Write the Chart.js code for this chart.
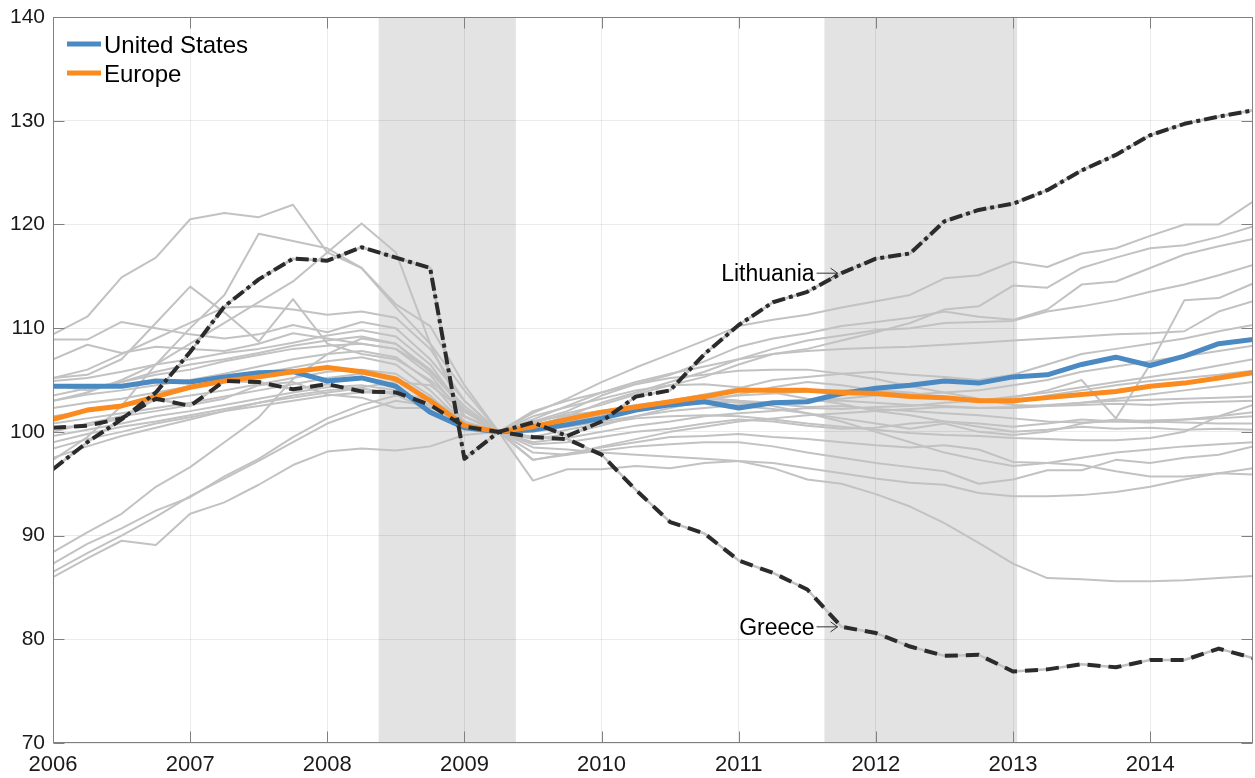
<!DOCTYPE html>
<html><head><meta charset="utf-8">
<script src="https://cdn.jsdelivr.net/npm/chart.js@4.4.1/dist/chart.umd.min.js"></script>
<style>html,body{margin:0;padding:0;background:#fff;}#wrap{width:1255px;height:778px;}</style>
</head><body><div id="wrap"><canvas id="c" width="1255" height="778"></canvas></div>
<script>
const quarters = [2006,2006.25,2006.5,2006.75,2007,2007.25,2007.5,2007.75,2008,2008.25,2008.5,2008.75,2009,2009.25,2009.5,2009.75,2010,2010.25,2010.5,2010.75,2011,2011.25,2011.5,2011.75,2012,2012.25,2012.5,2012.75,2013,2013.25,2013.5,2013.75,2014,2014.25,2014.5,2014.75];
const xTickYears = [2006,2007,2008,2009,2010,2011,2012,2013,2014];
const yTickValues = [70,80,90,100,110,120,130,140];
const recessions = [[2008.375, 2009.375], [2011.625, 2013.03]];

const unitedStates = [104.4,104.4,104.4,104.9,104.8,105.3,105.7,105.8,104.9,105.2,104.4,101.9,100.4,100,100.2,100.7,101.3,102.1,102.6,102.9,102.3,102.8,102.9,103.7,104.2,104.5,104.9,104.7,105.3,105.5,106.5,107.2,106.4,107.3,108.5,108.9];
const europe = [101.2,102.1,102.5,103.4,104.3,104.9,105.3,105.8,106.2,105.8,105.1,103.0,100.6,100,100.5,101.2,101.9,102.4,102.9,103.4,104.0,104.0,104.0,103.8,103.7,103.4,103.3,103.0,103.0,103.3,103.6,103.9,104.4,104.7,105.2,105.7];
const lithuania = [96.4,99.0,101.2,103.8,107.7,112.1,114.7,116.7,116.5,117.8,116.8,115.8,97.4,100,100.9,99.6,101.0,103.4,104.0,107.5,110.3,112.5,113.5,115.3,116.7,117.2,120.3,121.4,122.0,123.3,125.2,126.7,128.6,129.7,130.4,131.0];
const greece = [100.4,100.6,101.3,103.2,102.5,104.9,104.8,104.1,104.6,103.9,103.8,102.6,100.5,100,99.5,99.3,97.8,94.4,91.3,90.2,87.6,86.4,84.8,81.2,80.6,79.3,78.4,78.5,76.9,77.1,77.6,77.3,78.0,78.0,79.1,78.2];

const g1 = [109.4,111.1,114.9,116.8,120.5,121.1,120.7,121.9,117.3,115.8,112.3,110.2,104.5,100,95.3,96.4,96.4,96.7,96.5,97.0,97.2,97.0,96.5,96.0,95.5,95.1,94.9,94.1,93.8,93.8,93.9,94.2,94.7,95.4,96.0,96.5];
const g2 = [97.3,99.5,102.5,106.5,110.0,113.2,119.1,118.4,117.7,115.8,112.0,108.5,104.0,100,98.5,98.3,98.0,97.8,97.6,97.4,97.2,96.5,95.4,95.0,94.0,92.8,91.2,89.3,87.3,85.9,85.8,85.6,85.6,85.7,85.9,86.1];
const g3 = [103.0,103.8,105.0,106.5,108.5,110.5,112.5,114.5,117.3,120.1,117.3,108.5,101.5,100,98.0,97.8,98.2,98.6,98.8,99.0,99.0,98.6,98.0,97.5,97.0,96.6,96.2,95.0,95.4,96.3,96.3,97.3,97.0,97.5,97.8,98.6];
const g4 = [88.4,90.3,92.1,94.7,96.6,99.0,101.4,105.1,107.5,109.0,108.5,106.0,102.0,100,101.8,103.2,104.8,106.2,107.5,108.8,110.2,110.8,111.3,112.0,112.6,113.2,114.8,115.1,116.4,115.9,117.2,117.7,118.9,120.0,120.0,122.2];
const g5 = [105.2,105.5,107.0,110.5,114.0,111.5,108.7,112.8,108.5,107.5,107.0,105.0,102.0,100,97.3,97.9,98.5,99.0,99.5,99.6,99.8,99.5,99.3,99.0,98.7,98.5,98.7,98.3,97.1,97.0,96.8,96.2,95.7,95.7,96.0,95.9];
const g6 = [108.9,108.9,110.6,110.0,109.4,109.0,109.4,110.3,109.6,110.6,110.0,107.0,103.0,100,100.8,101.8,102.6,103.6,104.5,105.3,106.5,107.5,108.0,108.8,109.6,110.5,111.8,112.1,114.1,113.9,115.8,116.8,117.7,118.0,118.8,119.8];
const g7 = [107.0,108.4,107.6,108.2,108.0,107.8,108.5,109.5,109.0,108.5,108.0,106.0,102.5,100,101.0,102.0,103.5,104.6,105.5,106.8,108.2,109.0,109.5,110.2,110.6,111.0,111.6,111.1,110.8,111.8,114.2,114.5,115.8,117.1,117.9,118.6];
const g8 = [105.2,106.0,107.5,109.0,110.5,112.0,112.1,111.8,111.3,111.6,111.0,108.0,103.0,100,97.3,97.8,98.6,99.3,100.0,100.5,101.0,101.3,101.6,101.8,102.0,102.2,102.4,102.3,102.4,102.6,102.8,103.0,103.1,103.2,103.3,103.4];
const g9 = [104.9,105.2,105.8,106.5,107.0,107.6,108.0,108.6,109.3,109.8,109.2,106.5,102.0,100,100.5,101.5,102.8,103.8,104.8,105.8,107.0,108.0,108.8,109.3,109.8,110.0,110.5,110.6,110.7,111.6,112.1,112.7,113.5,114.2,115.1,116.1];
const g10 = [103.5,104.2,104.8,105.5,106.0,106.8,107.4,108.0,108.3,108.5,108.0,105.5,101.5,100,101.2,102.5,103.8,104.8,105.6,106.3,107.0,107.5,107.8,108.0,108.1,108.2,108.4,108.6,108.8,109.0,109.2,109.4,109.5,109.7,111.6,112.6];
const g11 = [103.0,103.6,104.0,104.5,105.0,105.6,106.3,107.0,107.5,107.8,107.2,104.8,101.0,100,100.2,100.8,101.5,102.3,103.0,103.6,104.2,105.0,105.3,105.6,105.8,105.5,105.3,105.0,105.5,106.5,107.5,108.0,108.5,109.0,109.7,110.3];
const g12 = [102.3,102.8,103.2,103.8,104.4,105.0,105.6,106.2,106.8,107.2,106.5,104.0,100.8,100,100.5,101.2,102.0,102.6,103.0,103.3,103.0,102.8,103.0,103.2,103.5,103.6,103.8,104.0,104.5,105.0,105.8,106.3,106.8,107.3,107.8,108.3];
const g13 = [101.5,102.0,102.5,103.0,103.5,104.0,104.6,105.2,105.8,106.0,105.6,103.5,100.5,100,100.3,100.9,101.6,102.3,102.8,103.2,103.5,103.7,103.9,104.0,104.0,103.6,103.3,103.0,102.8,103.5,104.0,104.5,104.9,105.2,105.5,105.9];
const g14 = [100.8,101.3,101.8,102.3,102.8,103.4,104.0,104.6,105.2,105.6,105.2,103.2,100.6,100,100.0,100.5,101.0,101.5,102.0,102.3,102.6,102.8,103.0,103.0,102.8,102.6,102.5,102.3,102.3,102.5,102.8,103.2,103.6,104.0,104.4,104.8];
const g15 = [99.6,100.2,100.8,101.5,102.0,102.6,103.2,103.8,104.3,104.5,104.0,102.6,100.8,100,99.5,100.2,100.8,101.3,101.5,101.6,101.5,101.2,100.8,100.5,100.2,99.9,99.7,99.6,99.4,99.3,99.2,99.2,99.4,100.0,101.5,102.6];
const g16 = [99.0,99.8,100.5,101.0,101.6,102.2,102.8,103.3,103.8,104.2,103.6,102.0,100.4,100,98.8,99.0,99.5,100.0,100.3,100.8,101.2,101.0,100.6,100.3,100.4,100.8,101.0,100.8,100.5,100.8,101.2,101.0,100.9,101.2,101.5,101.9];
const g17 = [98.4,99.3,100.0,100.8,101.4,102.0,102.5,103.0,103.5,103.8,103.8,103.0,101.5,100,101.0,101.6,102.0,102.4,102.6,102.8,102.5,102.2,101.8,101.3,100.8,100.3,100.8,100.0,99.7,100.0,100.8,101.2,101.0,100.9,100.8,100.8];
const g18 = [97.5,98.6,99.6,100.4,101.2,102.0,102.8,103.5,104.0,104.3,104.8,104.5,102.0,100,101.5,102.4,103.2,104.0,104.5,104.6,104.3,103.8,103.2,102.7,102.0,101.6,101.0,100.5,100.0,100.2,100.5,100.3,100.4,100.2,100.3,100.2];
const g19 = [87.3,89.2,90.7,92.4,93.7,95.7,97.4,99.5,101.3,102.6,103.5,103.3,101.0,100,99.0,99.4,100.0,100.6,101.0,101.5,101.8,102.0,102.3,102.2,102.4,102.5,102.8,103.0,103.4,103.8,104.3,104.8,105.3,105.8,106.4,107.0];
const g20 = [86.5,88.3,90.0,91.8,93.8,95.5,97.2,99.0,100.8,102.0,103.0,102.5,100.5,100,99.3,99.8,100.6,101.5,102.3,103.0,103.6,104.3,104.8,104.5,104.0,103.8,103.3,103.0,103.3,104.0,105.0,101.3,106.5,112.7,112.9,114.3];
const g21 = [86.0,87.8,89.5,89.1,92.1,93.2,94.9,96.8,98.1,98.4,98.2,98.6,99.7,100,100.6,101.4,102.0,102.3,102.6,103.0,102.8,102.7,102.4,102.5,102.2,102.0,101.8,101.6,101.3,101.0,100.9,101.0,101.1,101.2,101.3,101.5];
const g22 = [100.0,100.8,101.5,102.0,102.6,103.2,104.5,104.8,103.6,103.3,102.3,102.3,101.5,100,102.0,103.0,103.8,104.6,105.2,105.5,105.9,106.0,106.0,105.6,105.1,104.4,103.8,103.2,102.6,102.5,102.6,102.7,102.6,102.8,102.9,103.0];
const g23 = [104.5,104.0,104.8,105.8,106.5,107.0,107.6,108.3,108.8,109.2,108.5,105.8,102.2,100,100.5,101.3,102.0,102.5,103.0,103.2,103.0,102.5,101.8,101.0,100.0,99.0,98.0,97.3,96.7,97.0,97.5,98.0,98.3,98.6,98.8,99.0];
const otherCountries = [g1,g2,g3,g4,g5,g6,g7,g8,g9,g10,g11,g12,g13,g14,g15,g16,g17,g18,g19,g20,g21,g22,g23];

const legendItems = [{label:'United States', color:'#4a89c1'}, {label:'Europe', color:'#fb8b1e'}];
const callouts = [{label:'Lithuania', series: lithuania, index: 23}, {label:'Greece', series: greece, index: 23}];

const pts = arr => arr.map((v, i) => ({x: quarters[i], y: v}));
const GRAY = 'rgb(194,194,194)';
const DARK = '#2b2b2b';
const FONT = '"Liberation Sans", Arial, Helvetica, sans-serif';

const datasets = [];
otherCountries.forEach((s, k) => datasets.push({label:'c'+k, data: pts(s), borderColor: GRAY, borderWidth: 2, order: 10}));
datasets.push({label:'Lithuania base', data: pts(lithuania), borderColor: GRAY, borderWidth: 2.5, order: 5});
datasets.push({label:'Greece base', data: pts(greece), borderColor: GRAY, borderWidth: 2.5, order: 5});
datasets.push({label:'United States', data: pts(unitedStates), borderColor: legendItems[0].color, borderWidth: 5, order: 3});
datasets.push({label:'Europe', data: pts(europe), borderColor: legendItems[1].color, borderWidth: 5, order: 2});
datasets.push({label:'Lithuania', data: pts(lithuania), borderColor: DARK, borderWidth: 4, borderDash: [13,4,4,4], order: 1});
datasets.push({label:'Greece', data: pts(greece), borderColor: DARK, borderWidth: 4, borderDash: [13,8], order: 1});

const shading = {
  id: 'shading',
  beforeDraw(chart) {
    const {ctx, chartArea: a, scales: {x}} = chart;
    ctx.save();
    ctx.fillStyle = '#e3e3e3';
    recessions.forEach(([s, e]) => {
      const x0 = x.getPixelForValue(s), x1 = x.getPixelForValue(e);
      ctx.fillRect(x0, a.top, x1 - x0, a.bottom - a.top);
    });
    ctx.restore();
  }
};

const frame = {
  id: 'frame',
  afterDatasetsDraw(chart) {
    const {ctx, chartArea: a, scales: {x, y}} = chart;
    ctx.save();
    ctx.strokeStyle = '#808080';
    ctx.lineWidth = 1;
    const L = Math.round(a.left) + 0.5, R = Math.round(a.right) - 0.5, T = Math.round(a.top) + 0.5, B = Math.round(a.bottom) - 0.5;
    ctx.strokeRect(L, T, R - L, B - T);
    ctx.beginPath();
    xTickYears.forEach(v => {
      const px = Math.round(x.getPixelForValue(v)) + 0.5;
      ctx.moveTo(px, B); ctx.lineTo(px, B - 11);
      ctx.moveTo(px, T); ctx.lineTo(px, T + 11);
    });
    yTickValues.forEach(v => {
      const py = Math.round(y.getPixelForValue(v)) + 0.5;
      ctx.moveTo(L, py); ctx.lineTo(L + 11, py);
      ctx.moveTo(R, py); ctx.lineTo(R - 11, py);
    });
    ctx.stroke();
    ctx.restore();
  }
};

const overlay = {
  id: 'overlay',
  afterDraw(chart) {
    const {ctx, chartArea: a, scales: {x, y}} = chart;
    ctx.save();
    ctx.textBaseline = 'alphabetic';
    ctx.font = '24px ' + FONT;
    legendItems.forEach((it, i) => {
      const cy = a.top + 27 + i * 29;
      ctx.strokeStyle = it.color;
      ctx.lineWidth = 5;
      ctx.beginPath();
      ctx.moveTo(a.left + 14, cy); ctx.lineTo(a.left + 48, cy);
      ctx.stroke();
      ctx.fillStyle = '#000';
      ctx.textAlign = 'left';
      ctx.fillText(it.label, a.left + 51, cy + 8.5);
    });
    ctx.font = '23px ' + FONT;
    callouts.forEach(c => {
      const tx = x.getPixelForValue(quarters[c.index]);
      const ty = y.getPixelForValue(c.series[c.index]);
      const tip = tx - 4, start = tx - 25;
      ctx.strokeStyle = '#333';
      ctx.lineWidth = 1;
      ctx.beginPath();
      ctx.moveTo(start, ty); ctx.lineTo(tip, ty);
      ctx.moveTo(tip - 7, ty - 5); ctx.lineTo(tip, ty); ctx.lineTo(tip - 7, ty + 5);
      ctx.stroke();
      ctx.fillStyle = '#000';
      ctx.textAlign = 'right';
      ctx.fillText(c.label, start - 2, ty + 8);
    });
    ctx.restore();
  }
};

new Chart(document.getElementById('c'), {
  type: 'line',
  data: {datasets},
  options: {
    responsive: false,
    animation: false,
    devicePixelRatio: 1,
    layout: {padding: {top: 17, right: 2, left: 0, bottom: 0}},
    elements: {point: {radius: 0}, line: {tension: 0, fill: false, borderCapStyle: 'butt', borderJoinStyle: 'round'}},
    plugins: {legend: {display: false}, tooltip: {enabled: false}},
    scales: {
      x: {
        type: 'linear', min: 2006, max: 2014.75,
        afterBuildTicks: s => { s.ticks = xTickYears.map(v => ({value: v})); },
        afterFit: s => { s.height = 35; s.paddingLeft = 0; s.paddingRight = 0; },
        ticks: {callback: v => String(v), color: '#1a1a1a', font: {size: 22, family: FONT}, padding: 9, maxRotation: 0, autoSkip: false},
        grid: {color: 'rgba(0,0,0,0.08)', lineWidth: 1, drawTicks: false},
        border: {display: false}
      },
      y: {
        type: 'linear', min: 70, max: 140,
        afterBuildTicks: s => { s.ticks = yTickValues.map(v => ({value: v})); },
        afterFit: s => { s.width = 53; s.paddingTop = 0; s.paddingBottom = 0; },
        ticks: {callback: v => String(v), color: '#1a1a1a', font: {size: 21, family: FONT}, padding: 8},
        grid: {color: 'rgba(0,0,0,0.08)', lineWidth: 1, drawTicks: false},
        border: {display: false}
      }
    }
  },
  plugins: [shading, frame, overlay]
});
</script>
</body></html>
